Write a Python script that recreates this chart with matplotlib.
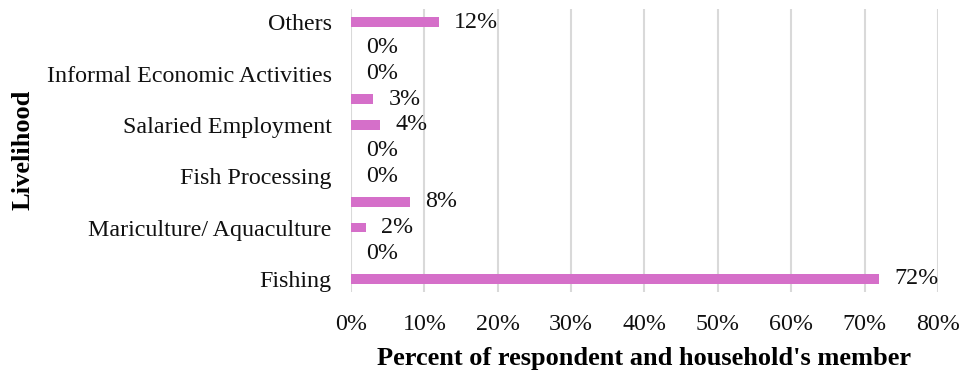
import matplotlib
matplotlib.use("Agg")
from matplotlib import pyplot as plt
from matplotlib.ticker import FuncFormatter

# rows from bottom to top, only every other one gets a label on the axis
categories = ["Fishing", "", "Mariculture/ Aquaculture", "", "Fish Processing", "",
              "Salaried Employment", "", "Informal Economic Activities", "", "Others"]
values = [72, 0, 2, 8, 0, 0, 4, 3, 0, 0, 12]
xticks = [0, 10, 20, 30, 40, 50, 60, 70, 80]

plt.rcParams['font.family'] = ['Liberation Serif', 'DejaVu Serif']

fig = plt.figure(figsize=(9.63, 3.74), dpi=100)
ax = fig.add_axes([0.3645, 0.22, 0.6095, 0.755])

pos = list(range(len(values)))
ax.barh(pos, values, height=0.37, color='#D56FC9', zorder=3)

for p, v in zip(pos, values):
    ax.annotate("%d%%" % v, (v, p), xytext=(11, 0), textcoords='offset points',
                ha='left', va='center', fontsize=17.3, color='#111111')

ax.set_xlim(0, 80)
ax.set_ylim(-0.5, 10.5)
ax.set_xticks(xticks)
ax.xaxis.set_major_formatter(FuncFormatter(lambda x, _: "%d%%" % x))
ax.set_yticks(pos)
ax.set_yticklabels(categories)
ax.tick_params(axis='both', length=0, labelsize=17.3, colors='#111111')
ax.tick_params(axis='x', pad=16)
ax.tick_params(axis='y', pad=14)

ax.grid(axis='x', color='#d9d9d9', linewidth=1.5, zorder=0)
for s in ax.spines.values():
    s.set_visible(False)

ax.set_xlabel("Percent of respondent and household's member", fontsize=19,
              fontweight='bold', labelpad=9)
fig.text(0.024, 0.6, "Livelihood", rotation=90, fontsize=19, fontweight='bold',
         ha='center', va='center')

fig.savefig("out.png", dpi=100)
